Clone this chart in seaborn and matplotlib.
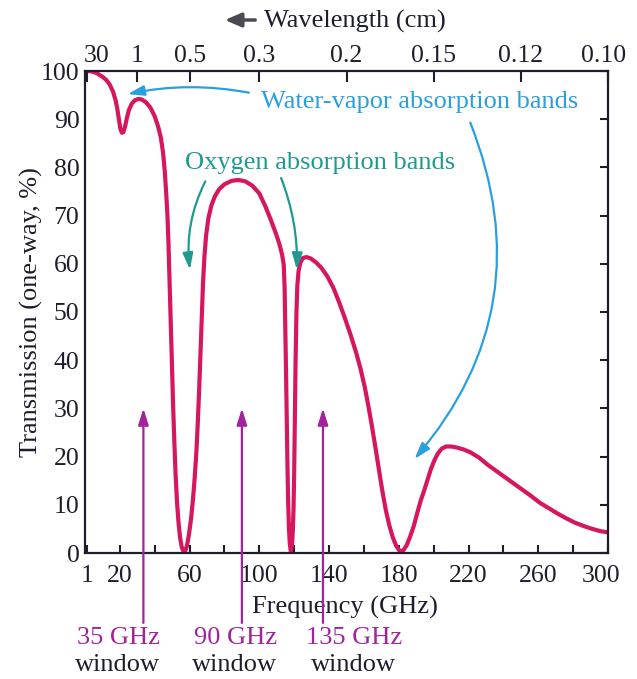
import numpy as np
import pandas as pd
import matplotlib
matplotlib.use("Agg")
import matplotlib.pyplot as plt
import matplotlib.transforms as mtransforms
import seaborn as sns

# ---- data ----
freq_ghz = [1, 4, 7, 10, 12, 14, 16, 17.5, 18.5, 19.5, 20.3, 21.1, 22, 23, 24,
            25.2, 26.8, 28.5, 30.5, 32.5, 35, 37.5, 40, 42, 43.5, 44.8, 45.8,
            46.6, 47.3, 47.9, 48.6, 49.3, 49.9, 50.6, 51.3, 52, 52.8, 53.6,
            54.5, 55.5, 56.5, 57.5, 58.5, 59.6, 60.8, 61.9, 62.9, 63.9, 64.7,
            65.5, 66.2, 67, 67.7, 68.5, 69.5, 70.8, 72.5, 74.5, 77, 80, 84, 88,
            92, 96, 100, 103.5, 106.5, 109.5, 111.5, 113, 114, 114.5, 114.9,
            115.3, 115.7, 116.1, 116.5, 117, 117.5, 118.1, 118.7, 119.2, 119.6,
            120, 120.4, 120.8, 121.3, 121.8, 122.5, 123.5, 125, 127, 129.5,
            132.5, 135.5, 139, 142.5, 146, 149.5, 152.5, 155.5, 158, 160.5,
            162.5, 164.5, 166.5, 168.5, 170.5, 172.5, 174.5, 176.5, 178.5,
            180.5, 182.5, 184.5, 186.5, 188.5, 190.5, 192.5, 194.5, 196.5,
            198.5, 200.5, 202.5, 204.5, 207, 210, 213, 217, 221, 226, 231, 236,
            241, 246, 251, 256, 261, 266, 271, 276, 281, 286, 291, 296, 300]
transmission = [100, 99.9, 99.5, 98.8, 98.2, 97.3, 95.8, 94, 92.2, 89.8, 88,
                87.2, 87.3, 88.5, 90.2, 91.9, 93.2, 93.9, 94.2, 94.1, 93.5,
                92.4, 90.6, 88.4, 86.2, 83, 79, 74.5, 70, 64, 55, 46, 38, 30,
                22.5, 16, 10.5, 6.5, 3.3, 1.2, 0.3, 0.4, 1.5, 3.8, 7, 11, 15.5,
                21, 27, 34, 41, 49, 56, 61.5, 66, 69.5, 72.1, 74, 75.5, 76.5,
                77.2, 77.4, 77.1, 76.2, 74.6, 71.9, 69.2, 66.3, 64.1, 62, 59.8,
                55, 47, 38, 28, 19, 11, 5, 1.8, 0.3, 1.5, 4.5, 9, 17, 28, 40,
                50, 55.5, 58.5, 60.2, 61.2, 61.4, 61.1, 60.3, 59.2, 57.4, 55,
                51.8, 48.3, 45.1, 41.6, 38.3, 34.4, 30.6, 26.5, 22.1, 17.5, 13,
                9, 5.8, 3.3, 1.5, 0.4, 0.5, 1.6, 3.4, 5.5, 8.2, 10.8, 12.9,
                15.2, 17.5, 19.3, 20.7, 21.6, 22.1, 22.1, 21.9, 21.5, 20.9,
                19.8, 18.3, 17, 15.7, 14.4, 13.1, 11.8, 10.4, 9.3, 8.2, 7.2,
                6.3, 5.6, 5, 4.5, 4.3]

x_tick_pos = [1, 20, 60, 100, 140, 180, 220, 260, 300]
x_tick_labels = ["1", "20", "60", "100", "140", "180", "220", "260", "300"]
x_minor_pos = [40, 80, 120, 160, 200, 240, 280]
y_ticks = list(range(0, 101, 10))
wavelength_cm = [30, 1, 0.5, 0.3, 0.2, 0.15, 0.12, 0.10]
wavelength_labels = ["30", "1", "0.5", "0.3", "0.2", "0.15", "0.12", "0.10"]
window_freqs = [35, 90, 135]
window_labels = ["35 GHz", "90 GHz", "135 GHz"]

df = pd.DataFrame({"Frequency (GHz)": freq_ghz, "Transmission": transmission})

sns.set_theme(style="white")
plt.rcParams["font.family"] = ["Liberation Serif", "DejaVu Serif"]

DARK = "#1d1d2e"
CURVE = "#d6175f"
BLUE = "#2a9fe0"
TEAL = "#1f9a8e"
PURPLE = "#a3239b"
FS = 19
TFS = 18.5

fig = plt.figure(figsize=(6.37, 6.79), dpi=100)
ax = fig.add_axes([85 / 637, 1 - 553 / 679, (608 - 85) / 637, (553 - 71) / 679])

sns.lineplot(data=df, x="Frequency (GHz)", y="Transmission", ax=ax,
             color=CURVE, linewidth=3.0, sort=False,
             solid_joinstyle="round", solid_capstyle="round")

ax.set_xlim(0, 300)
ax.set_ylim(0, 100)
ax.set_xticks(x_tick_pos)
ax.set_xticklabels(x_tick_labels)
ax.set_xticks(x_minor_pos, minor=True)
ax.set_yticks(y_ticks)
ax.set_yticklabels([str(v) for v in y_ticks])
ax.tick_params(axis="both", which="both", direction="in", length=6, width=1.5,
               colors=DARK, labelsize=TFS, top=False, right=True)
ax.tick_params(axis="x", which="both", pad=9)
ax.tick_params(axis="y", pad=4)
for sp in ax.spines.values():
    sp.set_color(DARK)
    sp.set_linewidth(1.6)
    sp.set_visible(True)

ax.set_xlabel("Frequency (GHz)", fontsize=FS, color=DARK)
ax.xaxis.set_label_coords(0.497, -0.088)
ax.set_ylabel("Transmission (one-way, %)", fontsize=FS, color=DARK)
ax.yaxis.set_label_coords(-0.08, 0.5)

# nudge the last bottom label inside, as in the reference
last_lbl = ax.get_xticklabels()[-1]
last_lbl.set_transform(last_lbl.get_transform() +
                       mtransforms.ScaledTranslation(-7 / 100, 0, fig.dpi_scale_trans))

# top wavelength axis
ax2 = ax.twiny()
ax2.set_xlim(ax.get_xlim())
ax2.set_xticks([30.0 / w for w in wavelength_cm])
ax2.set_xticklabels(wavelength_labels)
ax2.tick_params(axis="x", direction="in", length=8, width=1.5, colors=DARK,
                labelsize=TFS, pad=3)
ax2.grid(False)
for sp in ax2.spines.values():
    sp.set_visible(False)
top_lbls = ax2.get_xticklabels()
top_lbls[0].set_transform(top_lbls[0].get_transform() +
                          mtransforms.ScaledTranslation(10 / 100, 0, fig.dpi_scale_trans))
top_lbls[-1].set_transform(top_lbls[-1].get_transform() +
                           mtransforms.ScaledTranslation(-4 / 100, 0, fig.dpi_scale_trans))

fig.text(355 / 637, 1 - 21 / 679, "Wavelength (cm)", ha="center", va="center",
         fontsize=FS, color=DARK)
fig.add_artist(matplotlib.patches.FancyArrowPatch(
    (258 / 637, 1 - 20 / 679), (222 / 637, 1 - 20 / 679),
    transform=fig.transFigure, arrowstyle="-|>,head_length=0.7,head_width=0.3",
    color="#4a4a55", linewidth=2.5, mutation_scale=14))

arrow_kw = dict(arrowstyle="-|>,head_length=0.7,head_width=0.22", linewidth=1.6,
                mutation_scale=14, shrinkA=0, shrinkB=0)

# water-vapor annotations
ax.text(101, 93.6, "Water-vapor absorption bands", color=BLUE, fontsize=FS,
        ha="left", va="center")
ax.annotate("", xy=(24.5, 95.2), xytext=(94, 95.5),
            arrowprops=dict(color=BLUE, connectionstyle="arc3,rad=0.1", **arrow_kw))
ax.annotate("", xy=(189, 19.5), xytext=(221, 89.3),
            arrowprops=dict(color=BLUE, connectionstyle="arc3,rad=-0.3", **arrow_kw))

# oxygen annotations
ax.text(57.5, 81.0, "Oxygen absorption bands", color=TEAL, fontsize=FS,
        ha="left", va="center")
ax.annotate("", xy=(60.2, 58.8), xytext=(69, 77.1),
            arrowprops=dict(color=TEAL, connectionstyle="arc3,rad=0.15", **arrow_kw))
ax.annotate("", xy=(121.5, 58.8), xytext=(112.5, 77.8),
            arrowprops=dict(color=TEAL, connectionstyle="arc3,rad=-0.1", **arrow_kw))

# window arrows and labels
arrow_x = [33.5, 90, 136.5]
label_x = [19.2, 86.2, 154.3]
for ax_x, lab, lx in zip(arrow_x, window_labels, label_x):
    ax.annotate("", xy=(ax_x, 30), xytext=(ax_x, -14.5), annotation_clip=False,
                arrowprops=dict(color=PURPLE, **arrow_kw))
    ax.text(lx, -17.6, lab, color=PURPLE, fontsize=FS, ha="center", va="center",
            clip_on=False)
    ax.text(lx - 0.5, -23.3, "window", color=DARK, fontsize=FS, ha="center",
            va="center", clip_on=False)

fig.savefig("out.png", dpi=100)
